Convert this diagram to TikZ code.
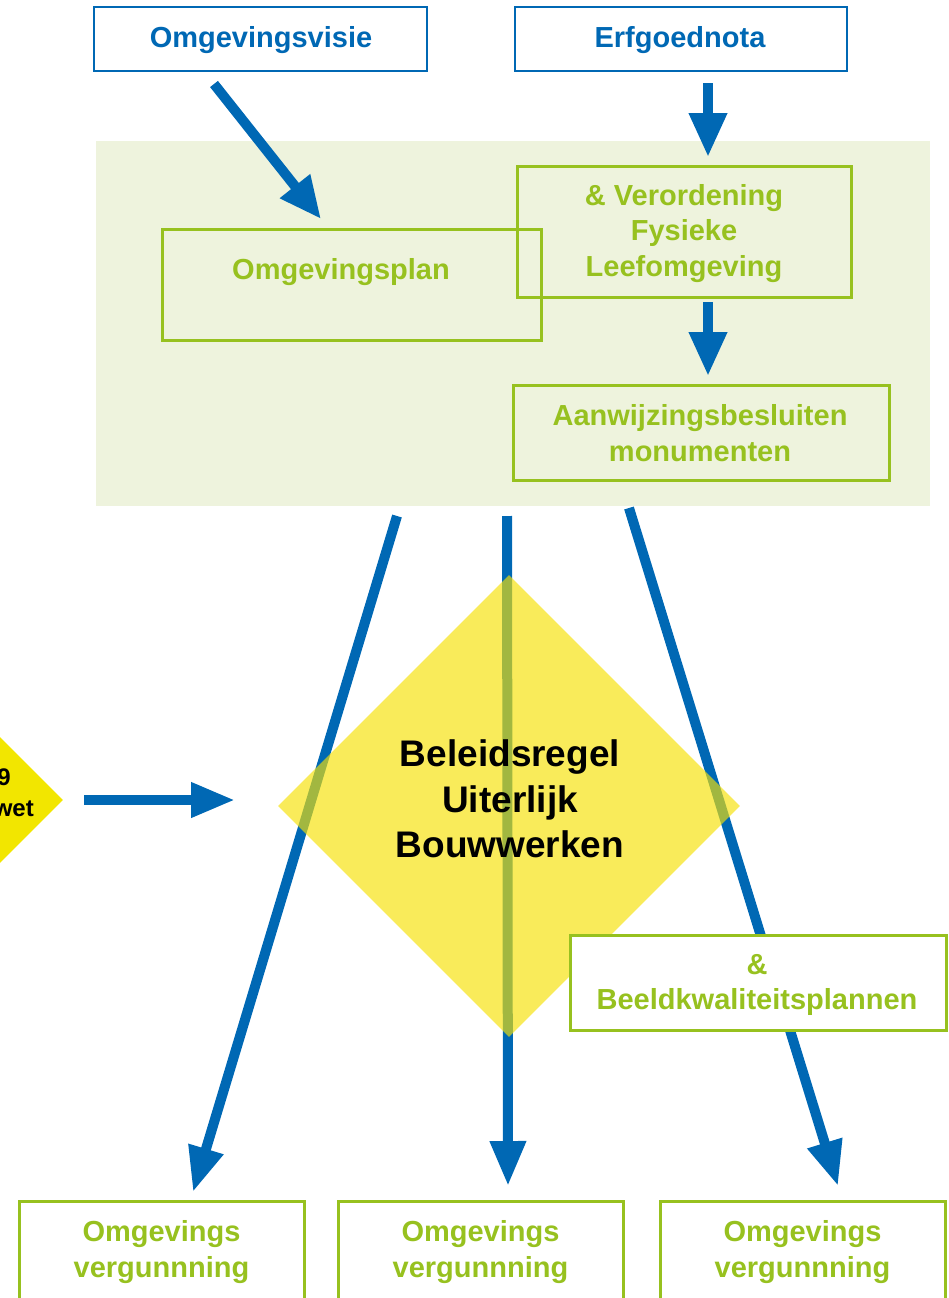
\documentclass[tikz,border=0pt]{standalone}
\usepackage{fontspec}
\setmainfont{Liberation Sans}
\usetikzlibrary{arrows.meta,shapes.geometric}
\definecolor{myblue}{HTML}{0068B4}
\definecolor{mygreen}{HTML}{97C11F}
\definecolor{greenbg}{HTML}{EEF3DD}
\definecolor{diayel}{RGB}{246,225,5}
\definecolor{lefty}{HTML}{F2E600}
\begin{document}
\begin{tikzpicture}[x=1pt,y=-1pt,
  bluebox/.style={draw=myblue, line width=2.5pt, inner sep=0pt},
  btext/.style={text=myblue, font=\bfseries\fontsize{29}{35}\selectfont, align=center, inner sep=0pt},
  greenbox/.style={draw=mygreen, line width=3pt, inner sep=0pt},
  gtext/.style={text=mygreen, font=\bfseries\fontsize{29}{35.5}\selectfont, align=center, inner sep=0pt},
  flow/.style={draw=myblue, line width=10pt, -{Triangle[length=45pt,width=34pt]}},
  blacktext/.style={text=black, font=\bfseries\fontsize{37}{45.5}\selectfont, align=center, inner sep=0pt}
]
\useasboundingbox (0,0) rectangle (949,1298);
\clip (0,0) rectangle (949,1298);

% top boxes
\node[bluebox, minimum width=333pt, minimum height=64pt] (visie) at (260.5,39) {};
\node[btext] (visietext) at (261,40.5) {Omgevingsvisie};
\node[bluebox, minimum width=332pt, minimum height=64pt] (nota) at (681,39) {};
\node[btext] (notatext) at (680,40.5) {Erfgoednota};

% green zone
\node[fill=greenbg, minimum width=834pt, minimum height=365pt, inner sep=0pt] (zone) at (513,323.5) {};
\node[greenbox, minimum width=379pt, minimum height=111pt] (plan) at (351.5,284.5) {};
\node[gtext] (plantext) at (341,272.5) {Omgevingsplan};
\node[greenbox, minimum width=334pt, minimum height=131pt] (veror) at (684,231.5) {};
\node[gtext] (verortext) at (684,233.5) {\& Verordening\\Fysieke\\Leefomgeving};
\node[greenbox, minimum width=376pt, minimum height=95pt] (aanw) at (701,432.5) {};
\node[gtext] (aanwtext) at (700,433) {Aanwijzingsbesluiten\\monumenten};

% top arrows
\coordinate (v1) at (214,84);
\coordinate (v2) at (321,219);
\draw[flow, -{Triangle[length=42pt,width=36pt]}] (v1) -- (v2);
\coordinate (n1) at (708,83);
\coordinate (n2) at (708,157);
\draw[flow, -{Triangle[length=44pt,width=36pt]}] (n1) -- (n2);
\coordinate (r1) at (708,302);
\coordinate (r2) at (708,376);
\draw[flow, -{Triangle[length=44pt,width=36pt]}] (r1) -- (r2);

% long arrows
\coordinate (l1) at (397,516);
\coordinate (l2) at (193,1192);
\coordinate (m1) at (507,516);
\coordinate (m2) at (508,1186);
\coordinate (q1) at (629,508);
\coordinate (q2) at (838,1186);
\draw[flow] (l1) -- (l2);
\draw[flow] (m1) -- (m2);
\draw[flow] (q1) -- (q2);

% left diamond and arrow
\node[diamond, fill=lefty, minimum width=206pt, minimum height=206pt, inner sep=0pt] (wetdia) at (-40,800) {};
\node[anchor=east, font=\bfseries\fontsize{24}{30}\selectfont, inner sep=0pt] (wet1) at (11,777) {9};
\node[anchor=east, font=\bfseries\fontsize{24}{30}\selectfont, inner sep=0pt] (wet2) at (34,809) {wet};
\coordinate (w1) at (84,800);
\coordinate (w2) at (235,800);
\draw[flow, -{Triangle[length=44pt,width=33pt]}] (w1) -- (w2);

% big diamond
\node[diamond, fill=diayel, fill opacity=0.66, minimum width=462pt, minimum height=462pt, inner sep=0pt] (regel) at (509,806) {};
\node[blacktext] (regeltext) at (510,799) {Beleidsregel\\Uiterlijk\\Bouwwerken};

% beeldkwaliteit
\node[greenbox, fill=white, minimum width=376pt, minimum height=95pt] (beeld) at (758,982.5) {};
\node[gtext] (beeldtext) at (757,985) {\&\\Beeldkwaliteitsplannen};

% bottom boxes
\node[greenbox, minimum width=285pt, minimum height=129pt] (og1) at (161.5,1265.5) {};
\node[greenbox, minimum width=285pt, minimum height=129pt] (og2) at (480.5,1265.5) {};
\node[greenbox, minimum width=285pt, minimum height=129pt] (og3) at (802.5,1265.5) {};
\node[gtext] (og1t) at (161.5,1252) {Omgevings\\vergunnning};
\node[gtext] (og2t) at (480.5,1252) {Omgevings\\vergunnning};
\node[gtext] (og3t) at (802.5,1252) {Omgevings\\vergunnning};
\end{tikzpicture}
\end{document}
